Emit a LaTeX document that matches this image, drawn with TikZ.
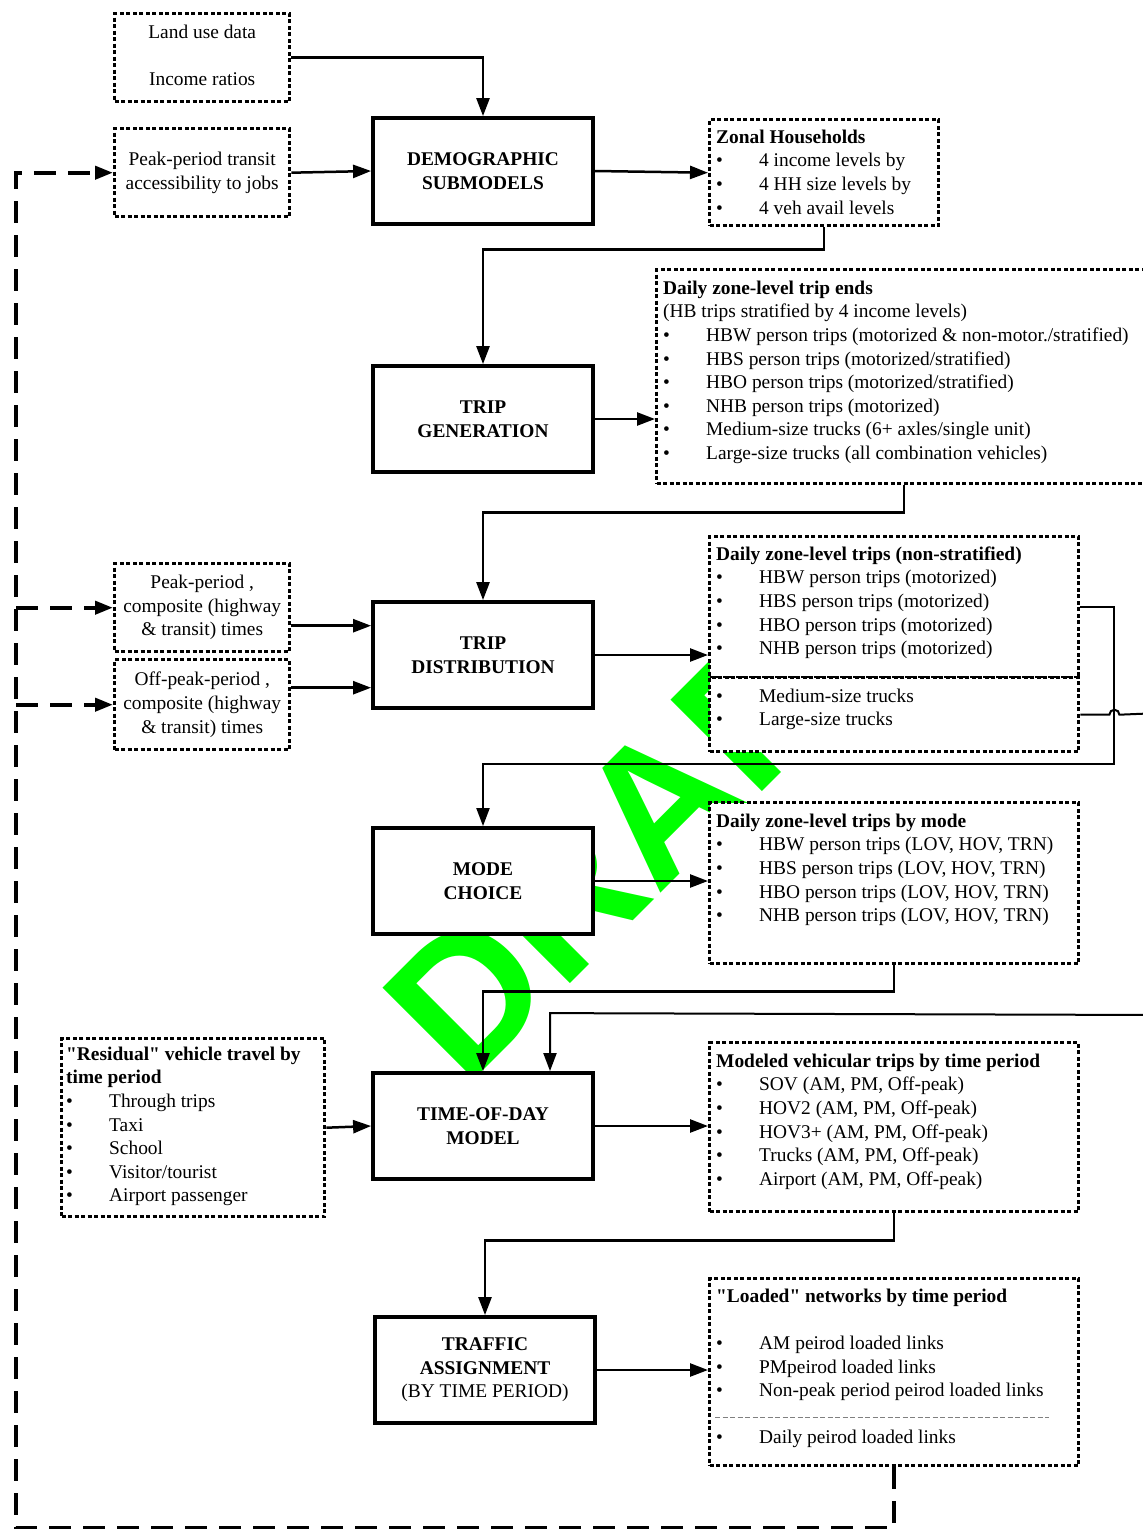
\documentclass[tikz,border=0pt]{standalone}
\usepackage{fontspec}
\setmainfont{Liberation Serif}
\setsansfont{Liberation Sans}
\usetikzlibrary{arrows.meta,calc}
\definecolor{wmgreen}{RGB}{0,255,0}
\newcommand{\blt}{\makebox[43pt][l]{\textbullet}}
\newcommand{\fstrut}{\rule{0pt}{15pt}}
\newcommand{\qd}{\textquotedbl}
\begin{document}
\begin{tikzpicture}[x=1pt,y=-1pt,
  mainbox/.style={draw, line width=3.8pt, fill=white, minimum width=220pt, minimum height=106pt, inner sep=0pt, align=center, font=\fontsize{19.4}{23.6}\selectfont\bfseries},
  dotbox/.style={draw, line width=3.4pt, dash pattern=on 4pt off 2.5pt, fill=white, inner sep=0pt, anchor=north west},
  boxtxt/.style={anchor=north west, inner sep=0pt, align=left, font=\fontsize{19.4}{23.6}\selectfont},
  ctrtxt/.style={inner sep=0pt, align=center, font=\fontsize{19.4}{23.6}\selectfont},
  conn/.style={line width=2.5pt, -{Triangle[length=18pt,width=13pt]}},
  thinconn/.style={line width=2pt, -{Triangle[length=18pt,width=13pt]}},
  fb/.style={line width=4pt, dash pattern=on 22pt off 12pt, -{Triangle[length=18pt,width=13pt]}},
  wm/.style={text=wmgreen, rotate=45, anchor=base west, inner sep=0pt, font=\fontsize{188}{188}\selectfont\sffamily\bfseries}
]
\useasboundingbox (0,0) rectangle (1143,1529);
\clip (0,0) rectangle (1143,1529);
\fill[white] (0,0) rectangle (1143,1529);

% watermark
\node[wm] (water) at (465,1089) {DRAFT};

% main boxes
\node[mainbox] (dm) at (483,171) {DEMOGRAPHIC\\SUBMODELS};
\node[mainbox] (tg) at (483,419) {TRIP\\GENERATION};
\node[mainbox] (td) at (483,655) {TRIP\\DISTRIBUTION};
\node[mainbox] (mc) at (483,881) {MODE\\CHOICE};
\node[mainbox] (tod) at (483,1126) {TIME-OF-DAY\\MODEL};
\node[mainbox] (ta) at (485,1370) {TRAFFIC\\ASSIGNMENT\\\textmd{(BY TIME PERIOD)}};

% dotted boxes
\node[dotbox, minimum width=175pt, minimum height=88pt] (lu) at (113,12) {};
\node[dotbox, minimum width=175pt, minimum height=88pt] (pt) at (113,127) {};
\node[dotbox, minimum width=229pt, minimum height=106pt] (zh) at (708,118) {};
\node[dotbox, minimum width=495pt, minimum height=214pt] (te) at (655,268) {};
\node[dotbox, minimum width=175pt, minimum height=88pt] (pc) at (113,562) {};
\node[dotbox, minimum width=175pt, minimum height=90pt] (op) at (113,658) {};
\node[dotbox, minimum width=369pt, minimum height=141pt] (ns1) at (708,535) {};
\node[dotbox, minimum width=369pt, minimum height=74pt] (ns2) at (708,676) {};
\node[dotbox, minimum width=369pt, minimum height=161pt] (bm) at (708,801) {};
\node[dotbox, minimum width=263pt, minimum height=178pt] (rs) at (60,1037) {};
\node[dotbox, minimum width=369pt, minimum height=169pt] (mv) at (708,1041) {};
\node[dotbox, minimum width=369pt, minimum height=187pt] (ln) at (708,1277) {};

% texts
\node[ctrtxt] (luT) at ($(lu.center)+(0,-2)$) {Land use data\\[23.6pt]Income ratios};
\node[ctrtxt] (ptT) at (pt.center) {Peak-period transit\\accessibility to jobs};
\node[ctrtxt] (pcT) at (pc.center) {Peak-period ,\\composite (highway\\\& transit) times};
\node[ctrtxt] (opT) at (op.center) {Off-peak-period ,\\composite (highway\\\& transit) times};

\node[boxtxt] (zhT) at ($(zh.north west)+(8,10)$) {\fstrut\textbf{Zonal Households}\\
\blt 4 income levels by\\
\blt 4 HH size levels by\\
\blt 4 veh avail levels};

\node[boxtxt] (teT) at ($(te.north west)+(8,11)$) {\fstrut\textbf{Daily zone-level trip ends}\\
(HB trips stratified by 4 income levels)\\
\blt HBW person trips (motorized \& non-motor./stratified)\\
\blt HBS person trips (motorized/stratified)\\
\blt HBO person trips (motorized/stratified)\\
\blt NHB person trips (motorized)\\
\blt Medium-size trucks (6+ axles/single unit)\\
\blt Large-size trucks (all combination vehicles)};

\node[boxtxt] (ns1T) at ($(ns1.north west)+(8,10)$) {\fstrut\textbf{Daily zone-level trips (non-stratified)}\\
\blt HBW person trips (motorized)\\
\blt HBS person trips (motorized)\\
\blt HBO person trips (motorized)\\
\blt NHB person trips (motorized)};

\node[boxtxt] (ns2T) at ($(ns2.north west)+(8,11)$) {\fstrut\blt Medium-size trucks\\
\blt Large-size trucks};

\node[boxtxt] (bmT) at ($(bm.north west)+(8,11)$) {\fstrut\textbf{Daily zone-level trips by mode}\\
\blt HBW person trips (LOV, HOV, TRN)\\
\blt HBS person trips (LOV, HOV, TRN)\\
\blt HBO person trips (LOV, HOV, TRN)\\
\blt NHB person trips (LOV, HOV, TRN)};

\node[boxtxt] (rsT) at ($(rs.north west)+(6,8)$) {\fstrut\textbf{\qd Residual\qd{} vehicle travel by}\\
\textbf{time period}\\
\blt Through trips\\
\blt Taxi\\
\blt School\\
\blt Visitor/tourist\\
\blt Airport passenger};

\node[boxtxt] (mvT) at ($(mv.north west)+(8,11)$) {\fstrut\textbf{Modeled vehicular trips by time period}\\
\blt SOV (AM, PM, Off-peak)\\
\blt HOV2 (AM, PM, Off-peak)\\
\blt HOV3+ (AM, PM, Off-peak)\\
\blt Trucks (AM, PM, Off-peak)\\
\blt Airport (AM, PM, Off-peak)};

\node[boxtxt] (lnT) at ($(ln.north west)+(8,10)$) {\fstrut\textbf{\qd Loaded\qd{} networks by time period}\\[23.6pt]
\blt AM peirod loaded links\\
\blt PMpeirod loaded links\\
\blt Non-peak period peirod loaded links\\[23.6pt]
\blt Daily peirod loaded links};
\draw[gray, line width=0.8pt, dash pattern=on 5pt off 2.5pt] ($(ln.south west)+(7,-50)$) -- ($(ln.south west)+(341,-50)$);

% connectors
\draw[conn] (lu.east) -| (dm.north);
\draw[conn] (pt.east) -- (dm.west);
\draw[conn] (dm.east) -- (zh.west);
\draw[conn] (zh.south) -- ++(0,22) -| (tg.north);
\draw[conn] (tg.east) -- (tg.east -| te.west);
\draw[conn] (te.south) -- ++(0,27) -| (td.north);
\coordinate (pcA) at ($(pc.east)+(0,18)$);
\coordinate (opA) at ($(op.east)+(0,-17)$);
\draw[conn] (pcA) -- (pcA -| td.west);
\draw[conn] (opA) -- (opA -| td.west);
\draw[conn] (td.east) -- (td.east -| ns1.west);
\coordinate (vx) at ($(ns1.east)+(34,0)$);
\draw[thinconn] (ns1.east) -- (vx) |- ($(mc.north)+(0,-62)$) -- (mc.north);
\coordinate (trA) at (1160,713);
\coordinate (trE) at (1160,1015);
\draw[line width=2pt] (ns2.east) -- ($(vx |- ns2.east)+(-5,0)$) arc[start angle=180,end angle=360,radius=5] -- (trA);
\draw[thinconn] (trE) -- ($(tod.north)+(67,-58)$) -- ($(tod.north)+(67,0)$);
\draw[conn] (mc.east) -- (mc.east -| bm.west);
\draw[conn] (bm.south) -- ++(0,26) -| (tod.north);
\draw[conn] (rs.east) -- (tod.west);
\draw[conn] (tod.east) -- (tod.east -| mv.west);
\draw[conn] (mv.south) -- ++(0,27) -| (ta.north);
\draw[conn] (ta.east) -- (ta.east -| ln.west);

% feedback
\coordinate (fbc) at (16,1528);
\draw[fb] (ln.south) |- (fbc) |- (pt.west);
\draw[fb] (fbc |- pc.west) -- (pc.west);
\draw[fb] (fbc |- op.west) -- (op.west);
\end{tikzpicture}
\end{document}
